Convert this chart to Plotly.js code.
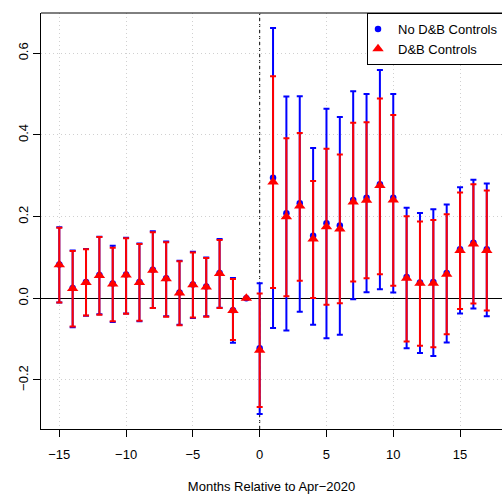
<!DOCTYPE html>
<html>
<head>
<meta charset="utf-8">
<script src="https://cdn.plot.ly/plotly-3.0.1.min.js"></script>
<style>html,body{margin:0;padding:0;background:#fff;}#chart{width:502px;height:494px;}</style>
</head>
<body>
<div id="chart"></div>
<script>
const months = [-15,-14,-13,-12,-11,-10,-9,-8,-7,-6,-5,-4,-3,-2,-1,0,1,2,3,4,5,6,7,8,9,10,11,12,13,14,15,16,17];

// No D&B Controls
const noDBEst   = [0.083,0.025,0.040,0.057,0.036,0.058,0.040,0.070,0.049,0.014,0.034,0.029,0.062,-0.029,0,-0.122,0.295,0.208,0.233,0.153,0.184,0.178,0.241,0.246,0.279,0.246,0.052,0.039,0.040,0.062,0.120,0.136,0.120];
const noDBLower = [-0.010,-0.071,-0.043,-0.039,-0.058,-0.037,-0.056,-0.024,-0.044,-0.065,-0.048,-0.044,-0.023,-0.109,null,-0.283,-0.073,-0.079,-0.033,-0.065,-0.098,-0.089,-0.002,0.015,0.022,0.014,-0.122,-0.134,-0.141,-0.108,-0.037,-0.025,-0.044];
const noDBUpper = [0.174,0.117,0.121,0.151,0.129,0.148,0.134,0.164,0.139,0.092,0.114,0.100,0.145,0.050,null,0.037,0.662,0.494,0.495,0.368,0.464,0.444,0.507,0.500,0.559,0.500,0.222,0.209,0.218,0.230,0.272,0.290,0.281];

// D&B Controls
const dbEst   = [0.082,0.024,0.039,0.056,0.035,0.057,0.039,0.069,0.048,0.013,0.033,0.028,0.061,-0.030,0,-0.127,0.285,0.200,0.226,0.145,0.175,0.170,0.236,0.240,0.276,0.241,0.049,0.037,0.037,0.059,0.117,0.133,0.117];
const dbLower = [-0.010,-0.069,-0.042,-0.040,-0.056,-0.038,-0.055,-0.024,-0.045,-0.066,-0.047,-0.045,-0.024,-0.102,null,-0.266,0.025,0.005,0.043,0.001,-0.016,-0.012,0.041,0.049,0.059,0.031,-0.106,-0.116,-0.120,-0.088,-0.026,-0.013,-0.030];
const dbUpper = [0.173,0.116,0.120,0.150,0.124,0.147,0.133,0.162,0.137,0.091,0.112,0.099,0.143,0.047,null,0.012,0.544,0.392,0.405,0.287,0.366,0.352,0.430,0.431,0.489,0.449,0.201,0.188,0.192,0.206,0.259,0.279,0.264];

const xTickVals = [-15,-10,-5,0,5,10,15];
const xTickText = ['\u221215','\u221210','\u22125','0','5','10','15'];
const yTickVals = [-0.2,0,0.2,0.4,0.6];
const yTickText = ['\u22120.2','0.0','0.2','0.4','0.6'];

function plus(est, up){ return est.map((v,i)=> up[i]==null ? null : up[i]-v); }
function minus(est, lo){ return est.map((v,i)=> lo[i]==null ? null : v-lo[i]); }

const font = {family:'"Liberation Sans", Arial, Helvetica, sans-serif', size:13, color:'#000'};

const traces = [
  {
    x: months, y: noDBEst, type:'scatter', mode:'markers', name:'No D&B Controls',
    marker:{symbol:'circle', size:6.5, color:'#0000FF'},
    error_y:{type:'data', symmetric:false, array:plus(noDBEst,noDBUpper), arrayminus:minus(noDBEst,noDBLower), color:'#0000FF', thickness:2, width:3}
  },
  {
    x: months, y: dbEst, type:'scatter', mode:'markers', name:'D&B Controls',
    marker:{symbol:'triangle-up', size:10, color:'#FF0000'},
    error_y:{type:'data', symmetric:false, array:plus(dbEst,dbUpper), arrayminus:minus(dbEst,dbLower), color:'#FF0000', thickness:2, width:3}
  }
];

const layout = {
  width:502, height:494,
  margin:{l:41, r:0, t:13, b:65, autoexpand:false},
  paper_bgcolor:'#fff', plot_bgcolor:'#fff',
  font: font,
  showlegend:true,
  legend:{x:0.7072, xanchor:'left', y:1, yanchor:'top', bgcolor:'#fff', bordercolor:'#000', borderwidth:1, font:font, tracegroupgap:0, itemwidth:30, indentation:-10},
  xaxis:{
    range:[-16.37,18.14], tickvals:xTickVals, ticktext:xTickText,
    ticks:'outside', ticklen:7, tickcolor:'#000', tickwidth:1,
    showline:true, linecolor:'#000', linewidth:1, mirror:false,
    showgrid:true, gridcolor:'#d0d0d0', griddash:'1px,3px', gridwidth:1,
    zeroline:false, ticklabelstandoff:6,
    title:{text:'Months Relative to Apr\u22122020', font:font, standoff:21}
  },
  yaxis:{
    range:[-0.320,0.6986], tickvals:yTickVals, ticktext:yTickText, tickangle:-90,
    ticks:'outside', ticklen:7, tickcolor:'#000', tickwidth:1,
    showline:true, linecolor:'#000', linewidth:1, mirror:false,
    showgrid:true, gridcolor:'#d0d0d0', griddash:'1px,3px', gridwidth:1,
    zeroline:true, zerolinecolor:'#000', zerolinewidth:1.2
  },
  shapes:[
    {type:'line', xref:'x', yref:'paper', x0:0, x1:0, y0:0, y1:1, line:{color:'#000', width:1, dash:'3px,3px'}, layer:'below'},
    {type:'line', xref:'paper', yref:'paper', x0:0, x1:1, y0:1, y1:1, line:{color:'#000', width:1}}
  ]
};

Plotly.newPlot('chart', traces, layout, {staticPlot:true, displayModeBar:false});
</script>
</body>
</html>
